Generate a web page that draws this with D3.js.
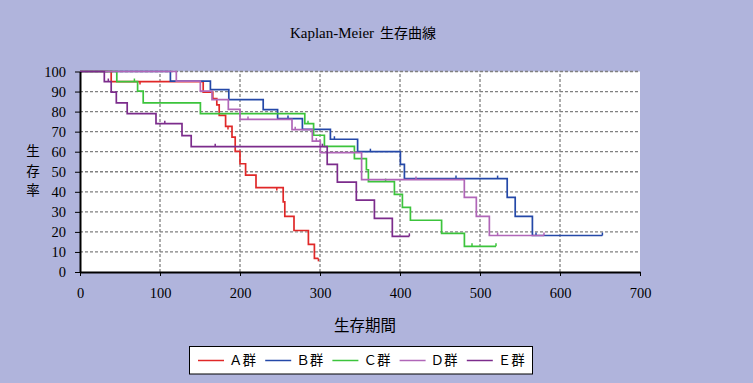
<!DOCTYPE html>
<html>
  <head>
    <meta charset="utf-8">
    <title>Kaplan-Meier 生存曲線</title>
    <script src="https://d3js.org/d3.v7.min.js"></script>
    <style>
      body { margin: 0; background: #b0b4dc; }
      svg { display: block; }
    </style>
  </head>
  <body>
    <div id="chart"></div>
    <script>
      // group names
      var groups = ["Ａ群", "Ｂ群", "Ｃ群", "Ｄ群", "Ｅ群"];
      // step points (time, survival %); last point = end of follow-up
      var timeA = [0, 39, 154, 166, 171, 174, 182, 190, 194, 200, 207, 220, 254, 256, 267.5, 285.5, 293, 298];
      var survA = [100, 95, 89.7, 86.5, 83.4, 78.1, 72.6, 67.3, 60.2, 54, 48.3, 42.1, 35, 27.7, 20.7, 13.8, 6.8, 6.8];
      var censA = [75, 185, 246, 298];
      var timeB = [0, 113, 163, 186, 229, 247, 278, 313, 347, 400.5, 405.5, 534, 544, 565.5, 653];
      var survB = [100, 95.2, 91, 86, 81, 76.5, 71.1, 66.2, 60, 53.7, 46.6, 37.2, 27.7, 18.2, 18.2];
      var censB = [260, 318, 363, 470, 522, 570, 653];
      var timeC = [0, 46, 72, 79, 150.5, 281, 292, 305.5, 343, 358, 360.5, 393, 403, 413, 452, 480.5, 520];
      var survC = [100, 95, 90.2, 84.4, 79, 74, 68.2, 62.7, 56.5, 51, 45.1, 38.7, 32.2, 25.8, 19.3, 12.8, 12.8];
      var censC = [68, 285, 382, 490, 520];
      var timeD = [0, 120.4, 150.4, 165, 185.4, 200, 265, 290.4, 300.4, 352, 480.4, 495.4, 511.7, 580];
      var survD = [100, 95.2, 90.2, 86, 81.1, 76.1, 71, 65.3, 59.5, 46.1, 37.2, 27.7, 18.2, 18.2];
      var censD = [210, 269, 295.4, 420, 522, 580];
      var timeE = [0, 30.4, 39, 45.4, 59, 95, 127.5, 139, 309, 321.7, 345.4, 368, 390.4, 411.7];
      var survE = [100, 95, 89.7, 84.4, 79, 74, 68, 62.5, 53.7, 44.8, 35.8, 26.7, 17.8, 17.8];
      var censE = [35.4, 106, 169, 303, 411.7];
      // axis ticks
      var xTicks = [0, 100, 200, 300, 400, 500, 600, 700];
      var yTicks = [0, 10, 20, 30, 40, 50, 60, 70, 80, 90, 100];

      var serif = "'Liberation Serif', 'Times New Roman', 'DejaVu Serif', serif";
      var cjk = "'Noto Sans CJK JP', 'Noto Sans CJK SC', sans-serif";

      var series = [
        { name: groups[0], t: timeA, s: survA, c: censA, color: "#e02828", dir: 1 },
        { name: groups[1], t: timeB, s: survB, c: censB, color: "#2448a8", dir: -1 },
        { name: groups[2], t: timeC, s: survC, c: censC, color: "#3cc43c", dir: -1 },
        { name: groups[3], t: timeD, s: survD, c: censD, color: "#b066b8", dir: -1 },
        { name: groups[4], t: timeE, s: survE, c: censE, color: "#7c2c8c", dir: -1 }
      ];

      var width = 753, height = 383;
      var svg = d3.select("#chart").append("svg")
        .attr("width", width)
        .attr("height", height);
      svg.append("rect")
        .attr("width", width).attr("height", height)
        .attr("fill", "#b0b4dc");

      var x = d3.scaleLinear().domain([0, 700]).range([80, 640]);
      var y = d3.scaleLinear().domain([0, 100]).range([272, 71.5]);

      // plot area
      svg.append("rect")
        .attr("x", x(0)).attr("y", y(100))
        .attr("width", x(700) - x(0)).attr("height", y(0) - y(100))
        .attr("fill", "#ffffff");

      // gridlines
      var grid = svg.append("g")
        .attr("stroke", "#808080")
        .attr("stroke-width", 1.3)
        .attr("stroke-dasharray", "3,2");
      grid.selectAll(".hg")
        .data(yTicks.filter(function(d) { return d > 0; }))
        .enter().append("line")
          .attr("x1", x(0)).attr("x2", x(700))
          .attr("y1", function(d) { return y(d); })
          .attr("y2", function(d) { return y(d); });
      grid.selectAll(".vg")
        .data(xTicks.filter(function(d) { return d > 0 && d < 700; }))
        .enter().append("line")
          .attr("y1", y(0)).attr("y2", y(100))
          .attr("x1", function(d) { return x(d); })
          .attr("x2", function(d) { return x(d); });

      // curves
      var line = d3.line()
        .x(function(d) { return x(d[0]); })
        .y(function(d) { return y(d[1]); })
        .curve(d3.curveStepAfter);
      var bis = d3.bisector(function(d) { return d; }).right;
      series.forEach(function(sr) {
        var pts = sr.t.map(function(t, i) { return [t, sr.s[i]]; });
        var g = svg.append("g");
        g.append("path")
          .attr("d", line(pts))
          .attr("fill", "none")
          .attr("stroke", sr.color)
          .attr("stroke-width", 1.7);
        // censor marks
        g.selectAll("line")
          .data(sr.c)
          .enter().append("line")
            .attr("x1", function(d) { return x(d); })
            .attr("x2", function(d) { return x(d); })
            .attr("y1", function(d) { return y(sr.s[Math.max(0, bis(sr.t, d) - 1)]); })
            .attr("y2", function(d) { return y(sr.s[Math.max(0, bis(sr.t, d) - 1)]) + sr.dir * 3; })
            .attr("stroke", sr.color)
            .attr("stroke-width", 1.5);
      });

      // axes
      var yAxis = svg.append("g")
        .attr("transform", "translate(" + x(0) + ",0)")
        .call(d3.axisLeft(y).tickValues(yTicks).tickSize(5).tickPadding(9).tickSizeOuter(0));
      var xAxis = svg.append("g")
        .attr("transform", "translate(0," + y(0) + ")")
        .call(d3.axisBottom(x).tickValues(xTicks).tickSize(4).tickPadding(12).tickSizeOuter(0));
      [yAxis, xAxis].forEach(function(a) {
        a.attr("font-family", null);
        a.select(".domain").attr("stroke", "#000").attr("stroke-width", 2);
        a.selectAll(".tick line").attr("stroke", "#000");
        a.selectAll(".tick text")
          .attr("fill", "#000")
          .style("font-family", serif)
          .style("font-size", "14.5px");
      });

      // title
      var title = svg.append("text")
        .attr("x", 363).attr("y", 38)
        .attr("text-anchor", "middle")
        .attr("fill", "#000");
      title.append("tspan").style("font-family", serif).style("font-size", "15px").text("Kaplan-Meier");
      title.append("tspan").style("font-family", cjk).style("font-size", "14px").attr("dx", 6).text("生存曲線");

      // axis titles
      ["生", "存", "率"].forEach(function(ch, i) {
        svg.append("text")
          .attr("x", 33).attr("y", 156 + i * 19.5)
          .attr("text-anchor", "middle")
          .style("font-family", cjk)
          .style("font-size", "13.5px")
          .attr("fill", "#000")
          .text(ch);
      });
      svg.append("text")
        .attr("x", 365).attr("y", 331)
        .attr("text-anchor", "middle")
        .style("font-family", cjk)
        .style("font-size", "15.5px")
        .attr("fill", "#000")
        .text("生存期間");

      // legend
      var legend = svg.append("g");
      legend.append("rect")
        .attr("x", 189.5).attr("y", 346.5)
        .attr("width", 343).attr("height", 27.5)
        .attr("fill", "#fff").attr("stroke", "#000");
      var items = legend.selectAll(".item")
        .data(series)
        .enter().append("g")
          .attr("transform", function(d, i) { return "translate(" + (198 + i * 67.2) + ",360.5)"; });
      items.append("line")
        .attr("x1", 0).attr("x2", 26)
        .attr("stroke", function(d) { return d.color; })
        .attr("stroke-width", 1.5);
      items.append("text")
        .attr("x", 31).attr("dy", "0.36em")
        .style("font-family", cjk)
        .style("font-size", "13.5px")
        .attr("fill", "#000")
        .text(function(d) { return d.name; });
    </script>
  </body>
</html>
